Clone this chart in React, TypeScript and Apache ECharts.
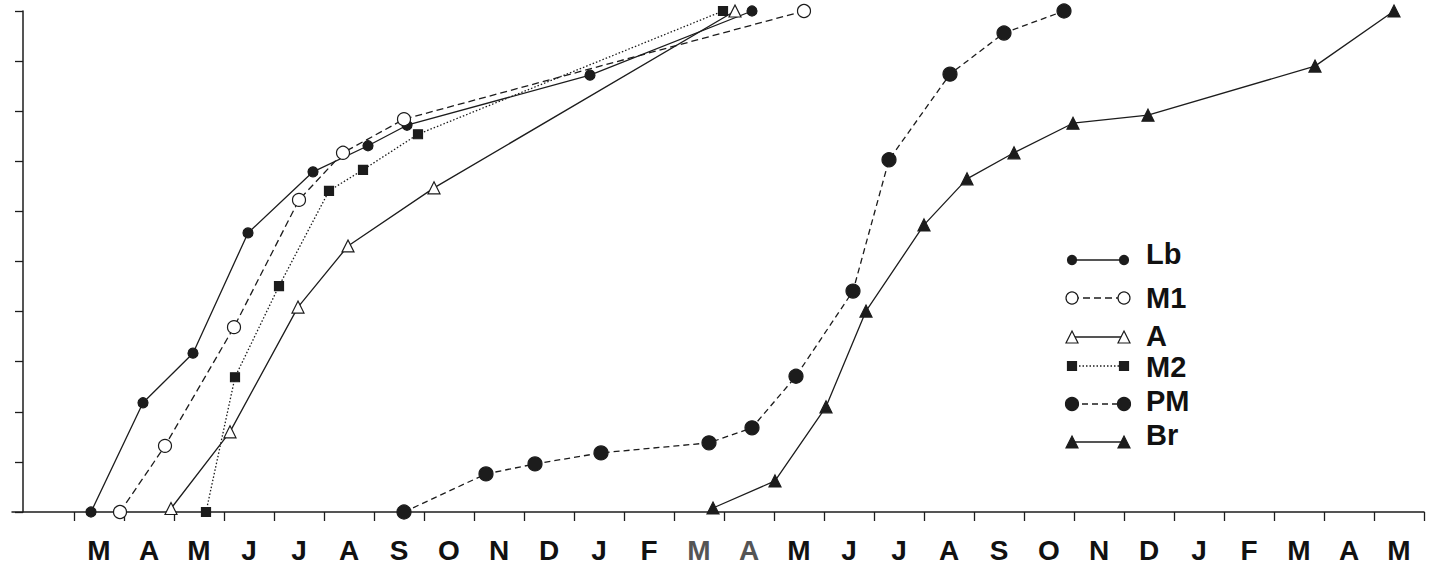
import React, { useEffect, useRef } from "react";
import * as echarts from "echarts";

// Month labels along the x axis (March of year 1 to May of year 3)
const monthLabels = [
  "M", "A", "M", "J", "J", "A", "S", "O", "N", "D", "J", "F",
  "M", "A", "M", "J", "J", "A", "S", "O", "N", "D", "J", "F",
  "M", "A", "M",
];
const yTickMax = 10;

// [month offset from start of first March, value]
const lbData = [[0.34, 0], [1.38, 2.18], [2.38, 3.17], [3.48, 5.57], [4.78, 6.79], [5.88, 7.31], [6.66, 7.72], [10.32, 8.72], [13.56, 10]];
const m1Data = [[0.92, 0], [1.82, 1.32], [3.2, 3.69], [4.5, 6.23], [5.38, 7.17], [6.6, 7.84], [14.6, 10]];
const aData = [[1.94, 0.07], [3.12, 1.6], [4.48, 4.09], [5.48, 5.31], [7.2, 6.47], [13.22, 10]];
const m2Data = [[2.64, 0], [3.22, 2.69], [4.1, 4.51], [5.1, 6.41], [5.78, 6.83], [6.88, 7.54], [12.98, 10]];
const pmData = [[6.6, 0], [8.24, 0.76], [9.22, 0.96], [10.54, 1.18], [12.7, 1.38], [13.56, 1.68], [14.44, 2.71], [15.58, 4.41], [16.3, 7.03], [17.52, 8.74], [18.6, 9.56], [19.8, 10]];
const brData = [[12.78, 0.08], [14.02, 0.62], [15.04, 2.1], [15.84, 4.01], [17.0, 5.73], [17.86, 6.65], [18.8, 7.17], [19.98, 7.76], [21.48, 7.92], [24.82, 8.9], [26.4, 10]];

const seriesNames = ["Lb", "M1", "A", "M2", "PM", "Br"];

const INK = "#1c1c1c";
const FONT = '"Liberation Sans", Arial, Helvetica, sans-serif';

type Spec = {
  symbol: string;
  size: number;
  fill: string;
  dash: any;
};

const specs: Spec[] = [
  { symbol: "circle", size: 10, fill: INK, dash: "solid" },
  { symbol: "circle", size: 13, fill: "#fff", dash: [7, 4] },
  { symbol: "triangle", size: 12, fill: "#fff", dash: "solid" },
  { symbol: "rect", size: 9, fill: INK, dash: [1.5, 2] },
  { symbol: "circle", size: 14, fill: INK, dash: [6, 4] },
  { symbol: "triangle", size: 12, fill: INK, dash: "solid" },
];

function legendMarker(spec: Spec, cx: number, cy: number) {
  const style = { fill: spec.fill, stroke: INK, lineWidth: 1.2 };
  if (spec.symbol === "circle") {
    return { type: "circle", shape: { cx, cy, r: spec.size / 2 - 0.5 }, style, z: 101 };
  }
  if (spec.symbol === "rect") {
    const s = spec.size;
    return { type: "rect", shape: { x: cx - s / 2, y: cy - s / 2, width: s, height: s }, style, z: 101 };
  }
  const s = spec.size;
  return {
    type: "polygon",
    shape: { points: [[cx, cy - s / 2], [cx + s / 2, cy + s / 2], [cx - s / 2, cy + s / 2]] },
    style,
    z: 101,
  };
}

export default function App() {
  const ref = useRef<HTMLDivElement>(null);

  useEffect(() => {
    if (!ref.current) return;
    const chart = echarts.init(ref.current, undefined, { renderer: "svg" });

    const datasets = [lbData, m1Data, aData, m2Data, pmData, brData];
    const tickValues = monthLabels.map((_, i) => i).concat([monthLabels.length]);
    const labelValues = monthLabels.map((_, i) => i + 0.5);

    const legendRows = [
      { y: 260, ty: 254 },
      { y: 298, ty: 298 },
      { y: 337, ty: 336 },
      { y: 366, ty: 367 },
      { y: 404, ty: 401 },
      { y: 442, ty: 435 },
    ];
    const legendGraphics: any[] = [];
    seriesNames.forEach((name, i) => {
      const spec = specs[i];
      const { y, ty } = legendRows[i];
      legendGraphics.push({
        type: "line",
        shape: { x1: 1072, y1: y, x2: 1124, y2: y },
        style: { stroke: INK, lineWidth: 1.3, lineDash: spec.dash === "solid" ? null : spec.dash },
        z: 100,
      });
      legendGraphics.push(legendMarker(spec, 1072, y));
      legendGraphics.push(legendMarker(spec, 1124, y));
      legendGraphics.push({
        type: "text",
        style: {
          text: name,
          x: 1146,
          y: ty,
          font: `bold 29px ${FONT}`,
          fill: "#111",
          verticalAlign: "middle",
          align: "left",
        },
        z: 100,
      });
    });

    chart.setOption({
      animation: false,
      backgroundColor: "#ffffff",
      grid: { left: 12, right: 5, top: 11, bottom: 58, containLabel: false, outerBoundsMode: "none" },
      xAxis: {
        type: "value",
        min: -1.24,
        max: monthLabels.length,
        axisLine: { show: true, onZero: false, lineStyle: { color: INK, width: 1.5 } },
        axisTick: { show: true, customValues: tickValues, length: 9, lineStyle: { color: INK, width: 1.3 } },
        axisLabel: {
          show: true,
          customValues: labelValues,
          formatter: (v: number) => {
            const idx = Math.floor(v);
            const t = monthLabels[idx] ?? "";
            return idx === 12 || idx === 13 ? `{g|${t}}` : t;
          },
          fontSize: 28,
          fontWeight: "bold",
          fontFamily: FONT,
          color: "#111",
          margin: 24,
          hideOverlap: false,
          rich: { g: { fontSize: 28, fontWeight: "bold", fontFamily: FONT, color: "#555" } },
        },
        splitLine: { show: false },
      },
      yAxis: {
        type: "value",
        min: 0,
        max: yTickMax,
        interval: 1,
        offset: -11,
        axisLine: { show: true, onZero: false, lineStyle: { color: INK, width: 1.5 } },
        axisTick: { show: true, length: 8, lineStyle: { color: INK, width: 1.3 } },
        axisLabel: { show: false },
        splitLine: { show: false },
      },
      graphic: legendGraphics,
      series: datasets.map((d, i) => {
        const spec = specs[i];
        return {
          name: seriesNames[i],
          type: "line",
          data: d,
          symbol: spec.symbol,
          symbolSize: spec.size,
          showAllSymbol: true,
          clip: false,
          z: 3 + i,
          lineStyle: { color: INK, width: 1.3, type: spec.dash },
          itemStyle: { color: spec.fill, borderColor: INK, borderWidth: 1.2 },
          emphasis: { disabled: true },
        };
      }),
    });

    return () => chart.dispose();
  }, []);

  return (
    <div
      ref={ref}
      style={{ position: "absolute", left: 0, top: 0, width: 1429, height: 570, background: "#fff" }}
    />
  );
}
